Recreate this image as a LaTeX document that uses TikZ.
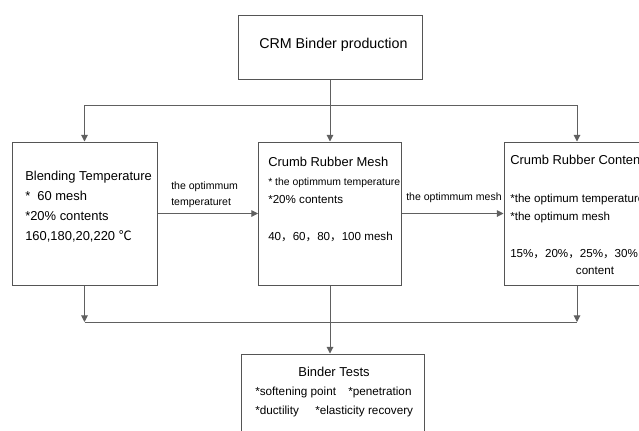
\documentclass[tikz,border=0pt]{standalone}
\usepackage{fontspec}
\setmainfont{Liberation Sans}
\newfontfamily\cjk{Noto Sans CJK SC}
\usetikzlibrary{arrows.meta,calc}
\definecolor{cLine}{HTML}{606060}
\definecolor{cBox}{HTML}{555555}
\newcommand{\fsz}[1]{\fontsize{#1}{#1}\selectfont}

\begin{document}
\begin{tikzpicture}[x=0.75pt, y=-0.75pt,
  box/.style={draw=cBox, line width=0.75pt, inner sep=0pt},
  ln/.style={draw=cLine, line width=0.75pt},
  ar/.style={ln, -{Triangle[length=5pt,width=5pt]}},
  txt/.style={anchor=base west, inner sep=0pt},
  hd/.style={txt, font=\fsz{9.7pt}},
  it/.style={txt, font=\fsz{8.7pt}},
  lab/.style={txt, font=\fsz{7.9pt}},
]
\clip (0,0) rectangle (639,430);

% boxes
\node[box, minimum width=138pt, minimum height=48pt] (prod) at (330,47) {};
\node[box, minimum width=108.75pt, minimum height=107.25pt] (blend) at (84.5,213.5) {};
\node[box, minimum width=107.25pt, minimum height=107.25pt] (mesh)  at (330,213.5) {};
\node[box, minimum width=109.5pt,  minimum height=107.25pt] (cont)  at (577,213.5) {};
\node[box, minimum width=137.25pt, minimum height=67.5pt]   (tests) at (332.5,399) {};

\node[txt, font=\fsz{10.7pt}] (p1) at (259,48) {CRM Binder production};

% blending temperature
\node[hd] (b1) at (25,180) {Blending Temperature};
\node[hd] (b2) at (25,200) {*\ \ 60 mesh};
\node[hd] (b3) at (25,220) {*20\% contents};
\node[hd] (b4) at (25,240) {160,180,20,220 {\cjk ℃}};

% crumb rubber mesh
\node[hd] (m1) at (268,166) {Crumb Rubber Mesh};
\node[txt, font=\fsz{7.8pt}] (m2) at (268,185) {* the optimmum temperature};
\node[it] (m3) at (268,203) {*20\% contents};
\node[it] (m4) at (268,240) {40{\cjk ，}60{\cjk ，}80{\cjk ，}100 mesh};

% crumb rubber content
\node[hd] (c1) at (510,164) {Crumb Rubber Content};
\node[it] (c2) at (510,202) {*the optimum temperature};
\node[it] (c3) at (510,220) {*the optimum mesh};
\node[it] (c4) at (510,257) {15\%{\cjk ，}20\%{\cjk ，}25\%{\cjk ，}30\%};
\node[it, anchor=base] (c5) at (595,274) {content};

% binder tests
\node[hd, anchor=base] (t1) at (334,376) {Binder Tests};
\node[txt, font=\fsz{8.8pt}] (t2) at (255,395) {*softening point};
\node[txt, font=\fsz{8.8pt}] (t3) at (348,395) {*penetration};
\node[txt, font=\fsz{8.8pt}] (t4) at (255,414) {*ductility};
\node[txt, font=\fsz{8.8pt}] (t5) at (315,414) {*elasticity recovery};

% labels on arrows
\node[lab] (l1) at (171,189.5) {the optimmum};
\node[lab] (l2) at (171,205.5) {temperaturet};
\node[lab] (l3) at (406,200.5) {the optimmum mesh};

% connectors
\coordinate (jt) at (330,105);
\coordinate (tl) at (blend.north |- jt);
\coordinate (tr) at (cont.north |- jt);
\coordinate (jb) at (330,322);
\coordinate (bl) at (blend.south |- jb);
\coordinate (br) at (cont.south |- jb);

\draw[ar] (prod) -- (mesh);
\draw[ln] (tl) -- (tr);
\draw[ar] (tl) -- (blend);
\draw[ar] (tr) -- (cont);
\draw[ar] (blend) -- (mesh);
\draw[ar] (mesh) -- (cont);
\draw[ar] (blend) -- (bl);
\draw[ar] (cont) -- (br);
\draw[ln] (bl) -- (br);
\draw[ar] (mesh.south) -- (mesh.south |- tests.north);
\end{tikzpicture}
\end{document}
